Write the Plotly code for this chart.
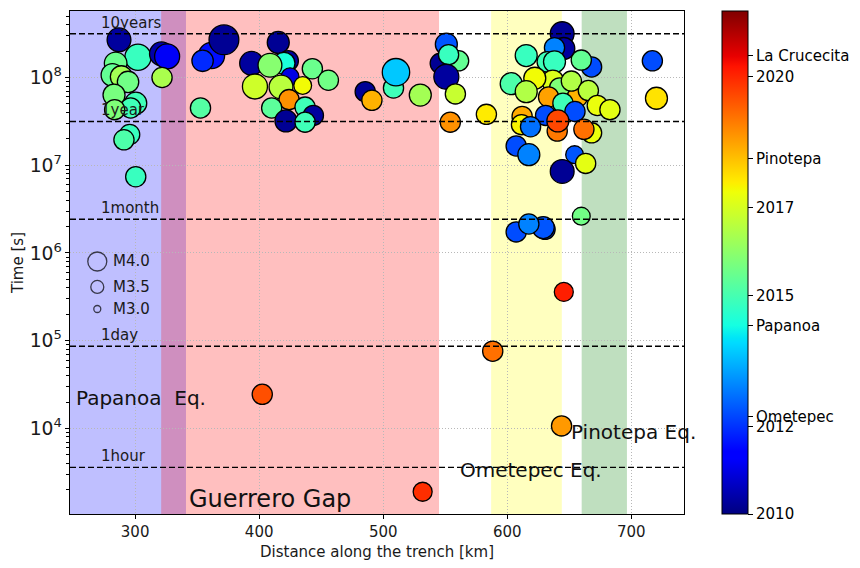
import numpy as np
import plotly.graph_objects as go

# ---- earthquake catalogue -------------------------------------------------
# distance along the trench [km]
dist_km = [
    287.0, 302.3, 284.3, 281.7, 288.9, 294.3, 283.0, 300.5, 296.4, 283.5,
    295.6, 291.0, 300.5, 321.2, 325.8, 321.7,
    361.6, 354.4, 371.6, 352.7, 415.4, 393.9, 423.5, 420.0, 408.7, 424.9,
    396.6, 417.6, 435.1, 424.1, 442.9, 455.8, 410.1, 437.0, 443.7, 421.6,
    437.0, 485.5, 490.9, 508.3, 510.3, 529.9,
    546.0, 560.8, 550.9, 552.7, 550.9, 558.2, 554.1, 583.2,
    644.3, 645.6, 638.1, 615.3, 632.2, 638.1, 668.0, 659.7, 717.0, 720.3,
    603.2, 636.7, 642.2, 622.2, 615.3, 633.3, 656.5, 651.7, 665.4, 672.6,
    682.8, 644.9, 654.6, 630.9, 612.0, 611.5, 618.8, 640.3, 640.8, 668.0,
    661.8, 607.2, 617.4, 654.3, 663.2, 644.3,
    659.7, 607.2, 630.5, 629.0, 617.4, 645.6, 588.3, 402.5, 643.8, 531.8,
]
# time since the reference event [s]
time_s = [
    2.69e8, 1.70e8, 1.45e8, 1.07e8, 1.02e8, 8.9e7, 6.3e7, 5.1e7, 4.5e7, 4.3e7,
    2.24e7, 1.95e7, 7.4e6, 1.86e8, 1.74e8, 1.0e8,
    1.78e8, 1.55e8, 2.69e8, 4.5e7, 2.51e8, 1.45e8, 1.55e8, 1.45e8, 1.38e8, 1.02e8,
    7.9e7, 7.8e7, 8.1e7, 5.6e7, 1.26e8, 9.3e7, 4.5e7, 4.6e7, 3.7e7, 3.2e7,
    3.1e7, 6.9e7, 5.5e7, 7.6e7, 1.15e8, 6.3e7,
    1.45e8, 1.55e8, 2.40e8, 1.82e8, 1.02e8, 6.5e7, 3.1e7, 3.8e7,
    3.16e8, 2.14e8, 2.19e8, 1.78e8, 1.51e8, 1.51e8, 1.32e8, 1.58e8, 1.55e8, 5.8e7,
    8.5e7, 9.1e7, 7.6e7, 9.8e7, 6.9e7, 6.0e7, 6.0e7, 9.1e7, 7.1e7, 4.8e7,
    4.3e7, 5.1e7, 4.1e7, 3.7e7, 3.6e7, 2.9e7, 2.75e7, 2.45e7, 3.2e7, 2.34e7,
    2.57e7, 1.66e7, 1.32e7, 1.32e7, 1.05e7, 8.5e6,
    2.63e6, 1.74e6, 1.86e6, 1.95e6, 2.14e6, 3.6e5, 7.6e4, 2.45e4, 1.07e4, 1.9e3,
]
# origin time (decimal year)
year = [
    2010.3, 2014.8, 2015.5, 2015.4, 2016.3, 2015.6, 2015.7, 2014.9, 2014.9, 2015.8,
    2014.8, 2015.1, 2014.8, 2010.4, 2011.2, 2016.4,
    2011.6, 2011.9, 2010.2, 2015.2, 2010.2, 2010.3, 2010.3, 2014.4, 2015.9, 2011.0,
    2016.9, 2016.6, 2017.4, 2018.7, 2015.5, 2015.6, 2015.3, 2014.9, 2010.3, 2010.2,
    2014.9, 2010.2, 2018.3, 2014.9, 2013.7, 2016.3,
    2010.2, 2015.4, 2012.4, 2014.8, 2010.3, 2016.8, 2018.7, 2017.6,
    2010.2, 2010.3, 2012.9, 2014.8, 2014.9, 2014.8, 2012.3, 2015.4, 2012.3, 2017.7,
    2015.1, 2017.1, 2015.8, 2017.4, 2016.5, 2018.5, 2018.3, 2016.5, 2016.6, 2017.3,
    2017.2, 2014.9, 2012.3, 2012.3, 2018.4, 2017.5, 2012.7, 2019.0, 2019.6, 2017.3,
    2019.1, 2012.3, 2012.9, 2012.4, 2017.2, 2010.2,
    2015.6, 2012.3, 2012.2, 2012.4, 2012.9, 2020.1, 2019.1, 2019.5, 2018.6, 2019.9,
]
# magnitude
mag = [
    4.4, 4.6, 4.3, 4.3, 4.25, 4.2, 4.25, 4.25, 4.1, 4.1,
    4.1, 4.1, 4.1, 4.4, 4.5, 4.1,
    4.6, 4.2, 4.9, 4.1, 4.25, 4.4, 4.1, 4.25, 4.4, 3.9,
    4.5, 4.4, 3.9, 4.1, 4.1, 4.1, 4.1, 4.1, 4.1, 4.25,
    4.1, 4.1, 4.1, 4.1, 4.7, 4.25,
    4.1, 4.1, 4.25, 4.1, 4.5, 4.1, 4.1, 4.1,
    4.4, 4.25, 4.1, 4.25, 4.1, 4.25, 4.1, 4.1, 4.1, 4.25,
    4.25, 4.25, 4.1, 4.25, 4.25, 4.1, 4.1, 4.1, 4.1, 4.1,
    4.1, 4.1, 4.1, 4.1, 4.1, 4.1, 4.1, 4.1, 4.25, 4.1,
    4.1, 4.1, 4.25, 3.9, 4.1, 4.4,
    3.9, 4.1, 4.1, 4.25, 4.1, 4.0, 4.1, 4.1, 4.1, 4.0,
]

# reference magnitudes for the size key
key_mag = [4.0, 3.5, 3.0]
key_label = ["M4.0", "M3.5", "M3.0"]

# large events marked on the colour bar
ref_events = ["Ometepec", "Papanoa", "Pinotepa", "La Crucecita"]
ref_years = [2012.22, 2014.30, 2018.13, 2020.48]
cbar_years = [2010, 2012, 2015, 2017, 2020]

# segments along the trench (km)
zones = [
    ("Papanoa", 247.5, 341.0, "rgba(0,0,255,0.25)"),
    ("Guerrero Gap", 321.0, 545.0, "rgba(255,0,0,0.25)"),
    ("Ometepec", 587.0, 644.0, "rgba(255,255,0,0.25)"),
    ("Pinotepa", 660.0, 696.5, "rgba(0,128,0,0.25)"),
]

# reference durations [s]
durations = [
    ("10years", 10 * 365.25 * 86400),
    ("1year", 365.25 * 86400),
    ("1month", 28 * 86400),
    ("1day", 86400),
    ("1hour", 3600),
]

FONT = "DejaVu Sans"
X_RANGE = [247.5, 742.5]
Y_RANGE = [3.025, 8.758]
YR_MIN, YR_MAX = 2010.0, 2021.5


def marker_px(m):
    return 7 + 12 * (np.asarray(m, dtype=float) - 3.0)


# matplotlib-style "jet" colour map
def jet_scale():
    stops = [0, 0.11, 0.125, 0.34, 0.35, 0.375, 0.64, 0.65, 0.66, 0.89, 0.91, 1.0]
    r = np.interp(stops, [0, 0.35, 0.66, 0.89, 1], [0, 0, 1, 1, 0.5])
    g = np.interp(stops, [0, 0.125, 0.375, 0.64, 0.91, 1], [0, 0, 1, 1, 0, 0])
    b = np.interp(stops, [0, 0.11, 0.34, 0.65, 1], [0.5, 1, 1, 0, 0])
    return [[s, f"rgb({int(round(rr*255))},{int(round(gg*255))},{int(round(bb*255))})"]
            for s, rr, gg, bb in zip(stops, r, g, b)]


fig = go.Figure()

# events
tick_vals = cbar_years + ref_years
tick_text = [str(y) for y in cbar_years] + ref_events
fig.add_trace(go.Scatter(
    x=dist_km, y=time_s, mode="markers",
    marker=dict(
        size=marker_px(mag), color=year, colorscale=jet_scale(),
        cmin=YR_MIN, cmax=YR_MAX, opacity=1,
        line=dict(color="black", width=1.3),
        colorbar=dict(
            x=1.062, xanchor="left", xpad=0, y=0.5, yanchor="middle", ypad=0,
            len=1, lenmode="fraction", thickness=26, thicknessmode="pixels",
            outlinewidth=1, outlinecolor="black",
            tickvals=tick_vals, ticktext=tick_text,
            ticks="outside", ticklen=5, tickwidth=1.2, tickcolor="black",
            tickfont=dict(family=FONT, size=15, color="black"),
        ),
    ),
    showlegend=False, hoverinfo="skip",
))

# magnitude size key
key_x = 269.5
key_y = [8.0e5, 4.1e5, 2.3e5]
fig.add_trace(go.Scatter(
    x=[key_x] * len(key_mag), y=key_y, mode="markers",
    marker=dict(size=marker_px(key_mag), color="rgba(0,0,0,0)",
                line=dict(color="black", width=1.3)),
    showlegend=False, hoverinfo="skip",
))

shapes = []
for name, x0, x1, col in zones:
    shapes.append(dict(type="rect", xref="x", yref="paper", x0=x0, x1=x1, y0=0, y1=1,
                       fillcolor=col, line=dict(width=0), layer="below"))
for name, sec in durations:
    shapes.append(dict(type="line", xref="paper", yref="y", x0=0, x1=1, y0=sec, y1=sec,
                       line=dict(color="black", width=1.4, dash="6px,3px"), layer="above"))

annotations = []
for name, sec in durations:
    annotations.append(dict(x=270.5, y=np.log10(sec), xref="x", yref="y", text=name,
                            showarrow=False, xanchor="left", yanchor="bottom", yshift=0,
                            font=dict(family=FONT, size=15, color="#1a1a1a")))
for lab, yv in zip(key_label, key_y):
    annotations.append(dict(x=280.3, y=np.log10(yv), xref="x", yref="y", text=lab,
                            showarrow=False, xanchor="left", yanchor="middle",
                            font=dict(family=FONT, size=15, color="#1a1a1a")))

eq_labels = [
    ("Papanoa\u00a0\u00a0Eq.", 250.4, 2.2e4, 20),
    ("Guerrero Gap", 341.7, 1.55e3, 24),
    ("Ometepec Eq.", 560.6, 3.35e3, 20),
    ("Pinotepa Eq.", 650.0, 9.2e3, 20),
]
for txt, xv, yv, fs in eq_labels:
    annotations.append(dict(x=xv, y=np.log10(yv), xref="x", yref="y", text=txt,
                            showarrow=False, xanchor="left", yanchor="middle",
                            font=dict(family=FONT, size=fs, color="#111111")))

axis_common = dict(
    showline=True, mirror=True, linecolor="black", linewidth=1.2,
    ticks="outside", ticklen=4, tickwidth=1.2, tickcolor="black",
    showgrid=True, gridcolor="#b8b8b8", gridwidth=1, griddash="1px,2px",
    zeroline=False, tickfont=dict(family=FONT, size=15, color="#1a1a1a"),
)

fig.update_layout(
    width=860, height=568,
    margin=dict(l=70, r=176, t=10, b=50),
    paper_bgcolor="white", plot_bgcolor="white",
    font=dict(family=FONT, size=15, color="#1a1a1a"),
    shapes=shapes, annotations=annotations,
    xaxis=dict(range=X_RANGE, tickvals=[300, 400, 500, 600, 700],
               title=dict(text="Distance along the trench [km]",
                          font=dict(family=FONT, size=15), standoff=6),
               **axis_common),
    yaxis=dict(type="log", range=Y_RANGE, dtick=1, exponentformat="power",
               title=dict(text="Time [s]", font=dict(family=FONT, size=15), standoff=2),
               minor=dict(ticks="outside", ticklen=2.5, tickwidth=1, tickcolor="black",
                          dtick="D1", showgrid=False),
               **axis_common),
)

fig.write_html("out.html")
